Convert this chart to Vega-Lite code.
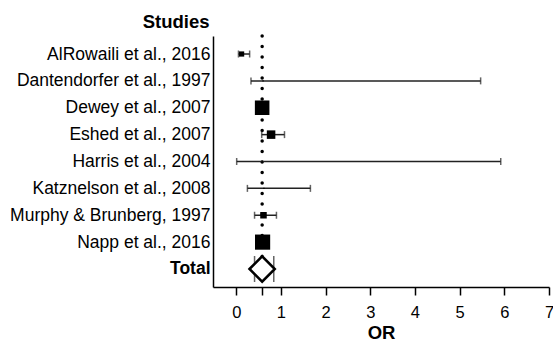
{
  "$schema": "https://vega.github.io/schema/vega-lite/v6.json",
  "width": 336,
  "height": 251,
  "autosize": {"type": "none"},
  "padding": {"left": 213, "top": 36, "right": 4, "bottom": 58},
  "background": "white",
  "config": {
    "view": {"stroke": null},
    "font": "Liberation Sans"
  },
  "datasets": {
    "studies": [
      {"study": "AlRowaili et al., 2016", "or": 0.12, "lower": 0.05, "upper": 0.3, "weight": 4.5},
      {"study": "Dantendorfer et al., 1997", "or": 0.6, "lower": 0.33, "upper": 5.47, "weight": 0.3},
      {"study": "Dewey et al., 2007", "or": 0.58, "lower": 0.5, "upper": 0.68, "weight": 35},
      {"study": "Eshed et al., 2007", "or": 0.78, "lower": 0.57, "upper": 1.08, "weight": 12},
      {"study": "Harris et al., 2004", "or": 0.58, "lower": 0.01, "upper": 5.92, "weight": 0.3},
      {"study": "Katznelson et al., 2008", "or": 0.62, "lower": 0.25, "upper": 1.66, "weight": 0.3},
      {"study": "Murphy & Brunberg, 1997", "or": 0.61, "lower": 0.41, "upper": 0.9, "weight": 7},
      {"study": "Napp et al., 2016", "or": 0.59, "lower": 0.5, "upper": 0.7, "weight": 38}
    ],
    "total": [
      {"study": "Total", "or": 0.58, "lower": 0.41, "upper": 0.84}
    ],
    "ref": [
      {"or": 0.58}
    ]
  },
  "encoding": {
    "y": {
      "field": "study",
      "type": "nominal",
      "sort": null,
      "scale": {
        "type": "point",
        "padding": 0.67,
        "domain": ["AlRowaili et al., 2016", "Dantendorfer et al., 1997", "Dewey et al., 2007", "Eshed et al., 2007", "Harris et al., 2004", "Katznelson et al., 2008", "Murphy & Brunberg, 1997", "Napp et al., 2016", "Total"]
      },
      "axis": {
        "title": "Studies",
        "titleAngle": 0,
        "titleAlign": "right",
        "titleBaseline": "middle",
        "titleX": -4,
        "titleY": -15,
        "titleFontSize": 18.5,
        "titleFontWeight": "bold",
        "titleColor": "black",
        "ticks": false,
        "labelFontSize": 17.5,
        "labelLimit": 300,
        "labelColor": "black",
        "labelPadding": 3,
        "labelFontWeight": {"condition": {"test": "datum.value === 'Total'", "value": "bold"}, "value": "normal"},
        "domainColor": "black",
        "domainWidth": 1.5,
        "grid": false
      }
    },
    "x": {
      "type": "quantitative",
      "scale": {"domain": [-0.52, 7], "nice": false, "zero": false},
      "axis": {
        "title": "OR",
        "titleFontSize": 18.5,
        "titleFontWeight": "bold",
        "titleColor": "black",
        "titlePadding": 3,
        "values": [0, 0.58, 1, 2, 3, 4, 5, 6, 7],
        "labelExpr": "datum.value % 1 === 0 ? datum.label : ''",
        "labelFontSize": 16.5,
        "labelColor": "black",
        "labelPadding": 9,
        "tickSize": 8,
        "tickColor": "black",
        "tickWidth": 1.5,
        "domainColor": "black",
        "domainWidth": 1.5,
        "grid": false,
        "labelFlush": false
      }
    }
  },
  "layer": [
    {
      "data": {"name": "ref"},
      "mark": {"type": "rule", "color": "black", "strokeWidth": 3.5, "strokeCap": "round", "strokeDash": [0.1, 10.4]},
      "encoding": {"x": {"field": "or"}, "y": {"value": 0}, "y2": {"value": {"expr": "height"}}}
    },
    {
      "data": {"name": "studies"},
      "mark": {"type": "rule", "color": "#222", "strokeWidth": 1.5},
      "encoding": {"x": {"field": "lower"}, "x2": {"field": "upper"}}
    },
    {
      "data": {"name": "studies"},
      "mark": {"type": "tick", "color": "#222", "thickness": 1.5, "size": 7},
      "encoding": {"x": {"field": "lower"}}
    },
    {
      "data": {"name": "studies"},
      "mark": {"type": "tick", "color": "#222", "thickness": 1.5, "size": 7},
      "encoding": {"x": {"field": "upper"}}
    },
    {
      "data": {"name": "studies"},
      "mark": {"type": "point", "shape": "square", "filled": true, "color": "black", "opacity": 1},
      "encoding": {
        "x": {"field": "or"},
        "size": {"field": "weight", "type": "quantitative", "scale": {"domain": [0, 38], "range": [0, 230], "zero": true}, "legend": null}
      }
    },
    {
      "data": {"name": "total"},
      "mark": {"type": "tick", "color": "#222", "thickness": 1.5, "size": 26},
      "encoding": {"x": {"field": "lower"}}
    },
    {
      "data": {"name": "total"},
      "mark": {"type": "tick", "color": "#222", "thickness": 1.5, "size": 26},
      "encoding": {"x": {"field": "upper"}}
    },
    {
      "data": {"name": "total"},
      "mark": {"type": "point", "shape": "diamond", "filled": true, "fill": "white", "stroke": "black", "strokeWidth": 2.5, "size": 640, "opacity": 1},
      "encoding": {"x": {"field": "or"}}
    }
  ]
}
